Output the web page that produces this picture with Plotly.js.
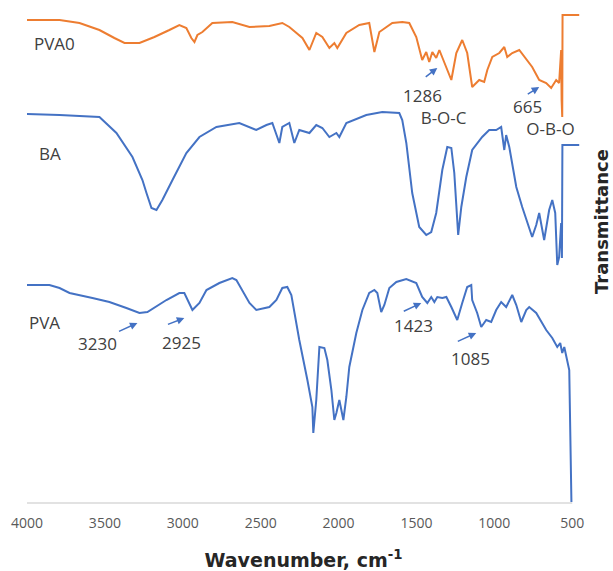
<!DOCTYPE html>
<html>
<head>
<meta charset="utf-8">
<script src="https://cdn.plot.ly/plotly-3.0.1.min.js"></script>
<style>html,body{margin:0;padding:0;background:#fff}#chart{width:613px;height:571px}</style>
</head>
<body>
<div id="chart"></div>
<script>
// Wavenumber (cm-1) and transmittance (arbitrary units, curves offset)
var pva0Wn = [4000,3791,3663,3535,3439,3374,3278,3182,3086,3022,2977,2945,2925,2906,2874,2810,2682,2572,2444,2361,2316,2232,2187,2143,2104,2059,2027,2008,1950,1867,1803,1770,1738,1655,1591,1546,1501,1463,1437,1418,1398,1373,1353,1321,1276,1244,1206,1174,1142,1097,1065,1045,1013,968,936,917,885,840,757,712,667,635,603,584,577,571,568,564,562,455];
var pva0T  = [483,483,480,473,465,460,460,466,473,478,475,465,461,468,471,480,481,476,477,480,476,465,453,470,466,455,460,455,470,478,480,451,471,480,481,480,466,443,451,441,451,445,453,441,423,450,463,450,416,423,421,433,446,450,456,446,450,453,436,423,420,415,423,420,433,453,403,386,488,488];

var baWn = [4000,3791,3535,3426,3323,3259,3233,3201,3169,3131,3066,3002,2977,2893,2784,2637,2528,2463,2425,2380,2361,2316,2284,2252,2187,2143,2104,2059,2014,1995,1950,1822,1719,1610,1591,1565,1527,1482,1437,1405,1373,1334,1302,1276,1257,1232,1212,1180,1142,1078,1033,988,956,936,924,904,859,821,789,757,731,712,680,648,628,609,596,584,571,566,563,455];
var baT  = [389,388,386,370,346,323,310,295,293,303,323,343,350,366,376,380,373,378,380,360,376,380,360,373,370,378,375,366,370,366,380,388,391,390,383,360,310,276,268,271,290,333,356,355,330,268,296,326,353,366,373,373,376,353,368,356,316,296,280,266,278,290,263,293,303,290,238,246,280,245,358,358];

var pvaWn = [4000,3856,3791,3727,3580,3471,3362,3278,3227,3105,3022,2990,2938,2893,2848,2765,2682,2656,2572,2528,2444,2399,2361,2329,2303,2252,2200,2168,2162,2143,2123,2091,2072,2046,2027,2014,1995,1982,1969,1950,1931,1886,1847,1803,1770,1751,1726,1706,1674,1629,1565,1501,1463,1430,1405,1385,1366,1334,1308,1276,1238,1206,1174,1148,1142,1110,1084,1052,1020,988,956,924,885,859,827,795,776,731,667,628,596,577,564,551,532,519,505];
var pvaT  = [218,218,215,210,205,201,195,190,191,203,210,210,193,200,213,220,225,223,200,193,196,203,215,216,208,163,123,96,70,103,156,155,143,113,83,90,103,93,83,106,136,170,193,210,213,210,191,198,215,221,224,220,206,200,206,201,206,205,206,196,183,200,216,218,203,190,176,183,181,193,201,196,208,198,181,193,196,190,173,165,156,160,150,156,143,133,1];

var xTickVals = [4000,3500,3000,2500,2000,1500,1000,500];
var xTickText = ['4000','3500','3000','2500','2000','1500','1000','500'];

var seriesNames = ['PVA0','BA','PVA'];
var seriesColors = ['#ED7D31','#4472C4','#4472C4'];

// peak labels (single line, centred): [text, x(cm-1), y]
var peakLabels = [
  ['3230',3548,160],['2925',3009,161],['1423',1520,178],['1085',1155,145]
];
// peak labels with band assignment (two lines, left aligned): [number, assignment, x, y]
var bandLabels = [
  ['1286','B-O-C',1593,397],['665','O-B-O',886,386]
];
// arrows: [tail x, tail y, head x, head y]
var peakArrows = [
  [3419,171,3291,180],[3105,178,2990,185],[1450,425,1366,435],
  [795,408,712,416],[1591,191,1469,200],[1244,161,1116,170]
];
// series name labels: [text, x, y]
var nameLabels = [['PVA0',3965,460],['BA',3933,350],['PVA',3997,181]];

var labelFont = {family:'Open Sans, sans-serif', size:17, color:'#404040'};
var indent = ['\u00A0\u00A0\u00A0\u00A0', '\u00A0\u00A0\u00A0'];

var traces = [
  {x:pva0Wn, y:pva0T, name:seriesNames[0]},
  {x:baWn, y:baT, name:seriesNames[1]},
  {x:pvaWn, y:pvaT, name:seriesNames[2]}
].map(function(t,i){
  t.type='scatter'; t.mode='lines';
  t.line={color:seriesColors[i], width:2};
  t.hoverinfo='x+y+name';
  return t;
});

var annotations = [];
nameLabels.forEach(function(a){
  annotations.push({x:a[1], y:a[2], xref:'x', yref:'y', text:a[0], showarrow:false, xanchor:'left', yanchor:'middle', font:labelFont});
});
peakLabels.forEach(function(a){
  annotations.push({x:a[1], y:a[2], xref:'x', yref:'y', text:a[0], showarrow:false, xanchor:'center', yanchor:'middle', font:labelFont, borderpad:0});
});
bandLabels.forEach(function(a,i){
  annotations.push({x:a[2], y:a[3], xref:'x', yref:'y', text:a[0]+'<br>'+indent[i]+a[1], align:'left', showarrow:false, xanchor:'left', yanchor:'middle', font:labelFont, borderpad:0});
});
peakArrows.forEach(function(a){
  annotations.push({x:a[2], y:a[3], ax:a[0], ay:a[1], xref:'x', yref:'y', axref:'x', ayref:'y', text:'', showarrow:true, arrowhead:2, arrowsize:1, arrowwidth:1.5, arrowcolor:'#4472C4'});
});
annotations.push({x:1, y:0.57, xref:'paper', yref:'paper', xshift:22, text:'Transmittance', textangle:-90, showarrow:false, xanchor:'center', yanchor:'middle', borderpad:0, font:{family:'DejaVu Sans, Verdana, sans-serif', size:18, color:'#262626', weight:'bold'}});

var layout = {
  width:613, height:571,
  margin:{l:27, r:33, t:10, b:68},
  paper_bgcolor:'#ffffff', plot_bgcolor:'#ffffff',
  showlegend:false,
  xaxis:{
    range:[4000,450], tickvals:xTickVals, ticktext:xTickText,
    showgrid:false, zeroline:false, showline:false, ticks:'',
    ticklabelstandoff:10,
    tickfont:{family:'Open Sans, sans-serif', size:14, color:'#595959'},
    title:{text:'<b>Wavenumber, cm<sup>-1</sup></b>', font:{family:'DejaVu Sans, Verdana, sans-serif', size:19, color:'#262626'}, standoff:22}
  },
  yaxis:{
    range:[0,493], showgrid:false, zeroline:false, showline:false, showticklabels:false, ticks:''
  },
  shapes:[{type:'line', xref:'x', yref:'paper', x0:4000, x1:500, y0:0, y1:0, line:{color:'#D9D9D9', width:1.5}, layer:'below'}],
  annotations:annotations
};

Plotly.newPlot('chart', traces, layout, {displayModeBar:false, staticPlot:true});
</script>
</body>
</html>
